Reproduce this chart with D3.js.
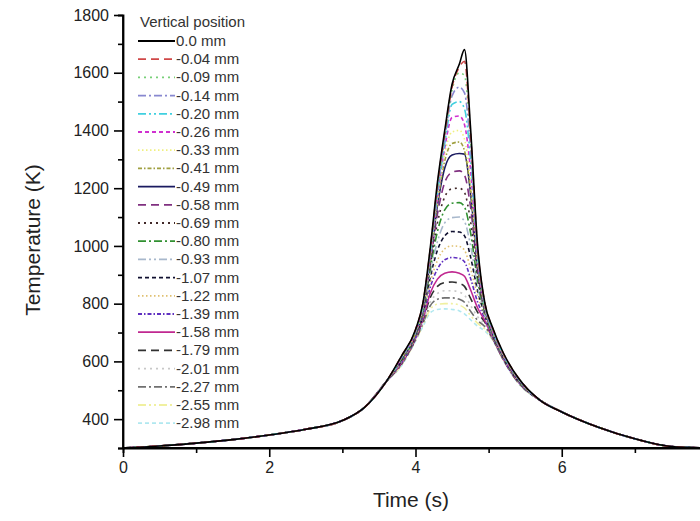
<!DOCTYPE html>
<html>
<head>
<meta charset="utf-8">
<script src="https://cdn.jsdelivr.net/npm/d3@7"></script>
<style>
  body { margin: 0; background: #fff; }
  svg { display: block; font-family: "Liberation Sans", Arial, sans-serif; }
</style>
</head>
<body>
<svg width="700" height="521"></svg>
<script>
// time samples (s)
const riseT = [0, 0.5, 1, 1.5, 2, 2.5, 3, 3.3, 3.6];
const peakT = [3.8, 4.0, 4.1, 4.2, 4.3, 4.4, 4.5, 4.6, 4.67, 4.75, 4.85, 4.95, 5.05, 5.2, 5.4];
const tailT = [5.7, 6.0, 6.5, 7.0, 7.5, 8.0];

// shared heating / cooling flanks (K)
const riseK = [300, 307, 317, 329, 345, 365, 395, 440, 530];
const tailK = [466, 425, 372, 332, 305, 300];

const depths = ['0.0 mm', '-0.04 mm', '-0.09 mm', '-0.14 mm', '-0.20 mm', '-0.26 mm',
  '-0.33 mm', '-0.41 mm', '-0.49 mm', '-0.58 mm', '-0.69 mm', '-0.80 mm', '-0.93 mm',
  '-1.07 mm', '-1.22 mm', '-1.39 mm', '-1.58 mm', '-1.79 mm', '-2.01 mm', '-2.27 mm',
  '-2.55 mm', '-2.98 mm'];

// peak region per depth, at peakT
const peakK = [
  [615, 710, 800, 990, 1220, 1400, 1560, 1630, 1680, 1420, 1000, 800, 720, 630, 545],
  [615, 710, 800, 985, 1210, 1390, 1550, 1620, 1640, 1400, 990, 800, 718, 628, 545],
  [612, 708, 795, 980, 1200, 1380, 1540, 1600, 1590, 1380, 985, 795, 715, 626, 544],
  [612, 706, 792, 975, 1190, 1370, 1520, 1550, 1530, 1350, 975, 792, 712, 625, 543],
  [610, 704, 790, 970, 1180, 1355, 1490, 1500, 1475, 1310, 965, 790, 710, 624, 542],
  [610, 702, 788, 965, 1170, 1340, 1445, 1450, 1420, 1270, 955, 788, 708, 622, 541],
  [608, 700, 785, 960, 1160, 1320, 1395, 1400, 1370, 1230, 945, 785, 706, 621, 540],
  [608, 698, 782, 955, 1150, 1295, 1355, 1360, 1330, 1200, 935, 782, 704, 620, 540],
  [606, 696, 780, 950, 1140, 1270, 1315, 1320, 1318, 1190, 925, 780, 702, 618, 539],
  [605, 694, 776, 940, 1110, 1220, 1255, 1260, 1245, 1140, 910, 776, 700, 617, 538],
  [604, 692, 772, 930, 1080, 1170, 1198, 1200, 1185, 1090, 895, 772, 698, 616, 537],
  [602, 690, 768, 920, 1050, 1125, 1148, 1150, 1135, 1050, 880, 768, 696, 615, 536],
  [600, 688, 764, 905, 1015, 1080, 1098, 1100, 1085, 1005, 860, 764, 694, 614, 535],
  [598, 686, 760, 890, 985, 1035, 1050, 1048, 1035, 965, 845, 760, 692, 612, 534],
  [596, 684, 755, 870, 950, 990, 1000, 998, 985, 925, 825, 755, 690, 611, 533],
  [594, 682, 750, 855, 920, 952, 960, 957, 945, 890, 805, 748, 688, 610, 532],
  [592, 680, 745, 835, 885, 905, 910, 905, 895, 850, 785, 740, 686, 609, 531],
  [590, 678, 740, 820, 860, 873, 875, 870, 860, 820, 770, 735, 684, 608, 530],
  [588, 676, 735, 805, 835, 845, 845, 840, 830, 795, 755, 728, 682, 607, 529],
  [586, 674, 730, 792, 815, 820, 820, 815, 805, 775, 742, 720, 680, 606, 528],
  [584, 672, 725, 780, 798, 800, 800, 795, 785, 760, 732, 712, 678, 605, 527],
  [582, 670, 720, 768, 780, 782, 780, 775, 765, 745, 722, 705, 676, 604, 526]
];

const colors = ['#000000', '#d04848', '#78d078', '#8888d0', '#40d0e0', '#d030d0',
  '#f0f080', '#a0a040', '#1a1a60', '#803080', '#402828', '#309030', '#a8b8cc',
  '#101030', '#e0c070', '#6030c0', '#c02890', '#303030', '#c8c8c8', '#707070',
  '#f0f0a0', '#b0e8f0'];

const dashes = ['none', '8,5', '2,4', '8,3,2,3', '8,3,2,3,2,3', '4,3', '1.5,2.5', '4,2,1.5,2'];

const xTicks = [0, 2, 4, 6, 8];
const yTicks = [400, 600, 800, 1000, 1200, 1400, 1600, 1800];

const svg = d3.select('svg');
const x = d3.scaleLinear().domain([0, 8]).range([123, 708]);
const y = d3.scaleLinear().domain([300, 1800]).range([448, 15]);

const time = [...riseT, ...peakT, ...tailT];
const series = depths.map((d, i) => {
  const k = [...riseK, ...peakK[i], ...tailK];
  return { id: d, i: i, values: time.map((t, j) => ({ t: t, k: k[j] })) };
});

svg.append('clipPath').attr('id', 'plot')
  .append('rect').attr('x', 123).attr('y', 0).attr('width', 600).attr('height', 448);

const line = d3.line()
  .x(d => x(d.t))
  .y(d => y(d.k))
  .curve(d3.curveMonotoneX);

svg.append('g').attr('clip-path', 'url(#plot)')
  .selectAll('path')
  .data(series.slice().reverse())
  .enter()
  .append('path')
  .attr('d', d => line(d.values))
  .attr('fill', 'none')
  .attr('stroke', d => colors[d.i])
  .attr('stroke-width', 1.6)
  .attr('stroke-dasharray', d => dashes[d.i % 8]);

// axes
const xAxis = svg.append('g').attr('transform', 'translate(0,448)');
xAxis.call(d3.axisBottom(x).tickValues(xTicks).tickSize(9).tickPadding(5).tickFormat(d3.format('d')));
xAxis.append('g').call(d3.axisBottom(x).tickValues([1, 3, 5, 7]).tickSize(5).tickFormat(''));
const yAxis = svg.append('g').attr('transform', 'translate(123,0)');
yAxis.call(d3.axisLeft(y).tickValues(yTicks).tickSize(9).tickPadding(5).tickFormat(d3.format('d')));
yAxis.append('g').call(d3.axisLeft(y).tickValues([300, 500, 700, 900, 1100, 1300, 1500, 1700]).tickSize(5).tickFormat(''));

svg.selectAll('.domain').attr('stroke', '#000').attr('stroke-width', 1.8);
svg.selectAll('.tick line').attr('stroke', '#000').attr('stroke-width', 1.6);
svg.selectAll('.tick text').attr('font-size', 16).attr('fill', '#222')
  .attr('font-family', '"Liberation Sans", Arial, sans-serif');
// x domain line reaches right edge
xAxis.select('.domain').attr('d', 'M123,0H700');
yAxis.select('.domain').attr('d', 'M0,448V15');

svg.append('text')
  .attr('x', 411).attr('y', 507)
  .attr('text-anchor', 'middle')
  .attr('font-size', 21).attr('fill', '#222')
  .text('Time (s)');
svg.append('text')
  .attr('transform', 'translate(40,240) rotate(-90)')
  .attr('text-anchor', 'middle')
  .attr('font-size', 21).attr('fill', '#222')
  .text('Temperature (K)');

// legend
const legend = svg.append('g');
legend.append('text')
  .attr('x', 140).attr('y', 27)
  .attr('font-size', 15).attr('fill', '#333')
  .text('Vertical position');
const rows = legend.selectAll('.row')
  .data(series)
  .enter()
  .append('g')
  .attr('transform', d => `translate(0,${41 + d.i * 18.2})`);
rows.append('line')
  .attr('x1', 138).attr('x2', 175)
  .attr('stroke', d => colors[d.i])
  .attr('stroke-width', 1.8)
  .attr('stroke-dasharray', d => dashes[d.i % 8]);
rows.append('text')
  .attr('x', 176).attr('y', 5)
  .attr('font-size', 15).attr('fill', '#333')
  .text(d => d.id);
</script>
</body>
</html>
